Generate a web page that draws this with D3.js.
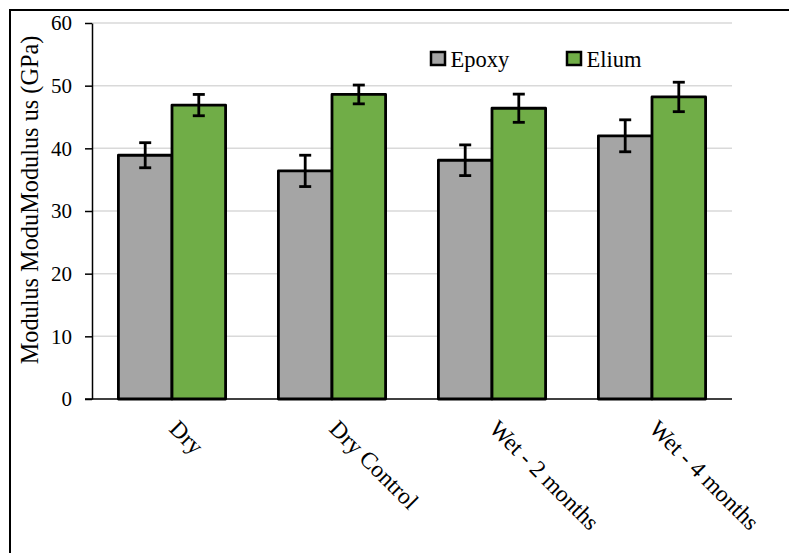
<!DOCTYPE html>
<html>
<head>
<meta charset="utf-8">
<script src="https://cdn.jsdelivr.net/npm/d3@7"></script>
<style>
  html, body { margin: 0; padding: 0; background: #fff; }
  svg { display: block; }
  text { font-family: "Liberation Serif", "Times New Roman", serif; fill: #000; }
</style>
</head>
<body>
<script>
// Categories, series and error values
const categories = ["Dry", "Dry Control", "Wet - 2 months", "Wet - 4 months"];
const seriesNames = ["Epoxy", "Elium"];
const epoxyValues = [38.9, 36.4, 38.1, 42.0];
const epoxyErrors = [2.0, 2.5, 2.45, 2.55];
const eliumValues = [46.9, 48.6, 46.4, 48.2];
const eliumErrors = [1.7, 1.5, 2.25, 2.35];
const yTicks = [0, 10, 20, 30, 40, 50, 60];
const colors = { Epoxy: "#a5a5a5", Elium: "#70ad47" };

const width = 789, height = 553;
const margin = { left: 92, right: 57, top: 23, bottom: 154 };

const svg = d3.select("body").append("svg")
  .attr("width", width).attr("height", height);

// outer frame (open to right and bottom)
svg.append("rect")
  .attr("x", 10).attr("y", 10)
  .attr("width", width + 20).attr("height", height + 20)
  .attr("fill", "none").attr("stroke", "#000").attr("stroke-width", 2);

const x = d3.scaleBand()
  .domain(categories)
  .range([margin.left, width - margin.right])
  .paddingInner(0.33).paddingOuter(0.165);

const xs = d3.scaleBand().domain(seriesNames).range([0, x.bandwidth()]);

const y = d3.scaleLinear().domain([0, 60]).range([height - margin.bottom, margin.top]);

// gridlines
svg.append("g").selectAll("line").data(yTicks.filter(d => d > 0)).join("line")
  .attr("x1", margin.left).attr("x2", width - margin.right)
  .attr("y1", d => y(d)).attr("y2", d => y(d))
  .attr("stroke", "#d9d9d9").attr("stroke-width", 1.5);

// data table
const rows = categories.map((c, i) => ({
  cat: c,
  items: [
    { s: "Epoxy", v: epoxyValues[i], e: epoxyErrors[i] },
    { s: "Elium", v: eliumValues[i], e: eliumErrors[i] }
  ]
}));

const groups = svg.append("g").selectAll("g").data(rows).join("g")
  .attr("transform", d => `translate(${x(d.cat)},0)`);

groups.selectAll("rect").data(d => d.items).join("rect")
  .attr("x", d => xs(d.s))
  .attr("y", d => y(d.v))
  .attr("width", xs.bandwidth())
  .attr("height", d => y(0) - y(d.v))
  .attr("fill", d => colors[d.s])
  .attr("stroke", "#000").attr("stroke-width", 2.8)
  .attr("stroke-linejoin", "round");

// error bars
const eb = groups.selectAll("g.err").data(d => d.items).join("g").attr("class", "err");
const cap = 6;
const mid = d => xs(d.s) + xs.bandwidth() / 2;
eb.append("line")
  .attr("x1", mid).attr("x2", mid)
  .attr("y1", d => y(d.v + d.e)).attr("y2", d => y(d.v - d.e))
  .attr("stroke", "#000").attr("stroke-width", 2.8);
eb.append("line")
  .attr("x1", d => mid(d) - cap).attr("x2", d => mid(d) + cap)
  .attr("y1", d => y(d.v + d.e)).attr("y2", d => y(d.v + d.e))
  .attr("stroke", "#000").attr("stroke-width", 2.8);
eb.append("line")
  .attr("x1", d => mid(d) - cap).attr("x2", d => mid(d) + cap)
  .attr("y1", d => y(d.v - d.e)).attr("y2", d => y(d.v - d.e))
  .attr("stroke", "#000").attr("stroke-width", 2.8);

// y axis
const yAxis = svg.append("g")
  .attr("transform", `translate(${margin.left},0)`)
  .call(d3.axisLeft(y).tickValues(yTicks).tickSize(7).tickPadding(13).tickSizeOuter(0));
yAxis.select(".domain").attr("stroke", "#000").attr("stroke-width", 1.5);
yAxis.selectAll(".tick line").attr("stroke", "#000").attr("stroke-width", 1.5);
yAxis.selectAll(".tick text")
  .attr("font-family", "Liberation Serif").attr("font-size", 21).attr("fill", "#000");

// x axis
const xAxis = svg.append("g")
  .attr("transform", `translate(0,${y(0)})`)
  .call(d3.axisBottom(x).tickSize(0).tickSizeOuter(0).tickFormat(""));
xAxis.select(".domain").attr("stroke", "#000").attr("stroke-width", 1.5)
  .attr("d", `M${margin.left - 7},0H${width - margin.right}`);

svg.append("g").selectAll("text").data(categories).join("text")
  .attr("transform", d => `translate(${x(d) + x.bandwidth() / 2 - 4},${y(0) + 31}) rotate(45)`)
  .attr("font-size", 23.5)
  .text(d => d);

// y axis title
svg.append("text")
  .attr("transform", `translate(38,200) rotate(-90)`)
  .attr("text-anchor", "middle")
  .attr("font-size", 24.3)
  .text("Modulus ModuModulus us (GPa)");

// legend
const legendX = [431, 567];
const legend = svg.append("g").selectAll("g").data(seriesNames).join("g")
  .attr("transform", (d, i) => `translate(${legendX[i]},52)`);
legend.append("rect")
  .attr("width", 14).attr("height", 13)
  .attr("fill", d => colors[d]).attr("stroke", "#000").attr("stroke-width", 2.5);
legend.append("text")
  .attr("x", 19.5).attr("y", 15)
  .attr("font-size", 22.5)
  .text(d => d);
</script>
</body>
</html>
